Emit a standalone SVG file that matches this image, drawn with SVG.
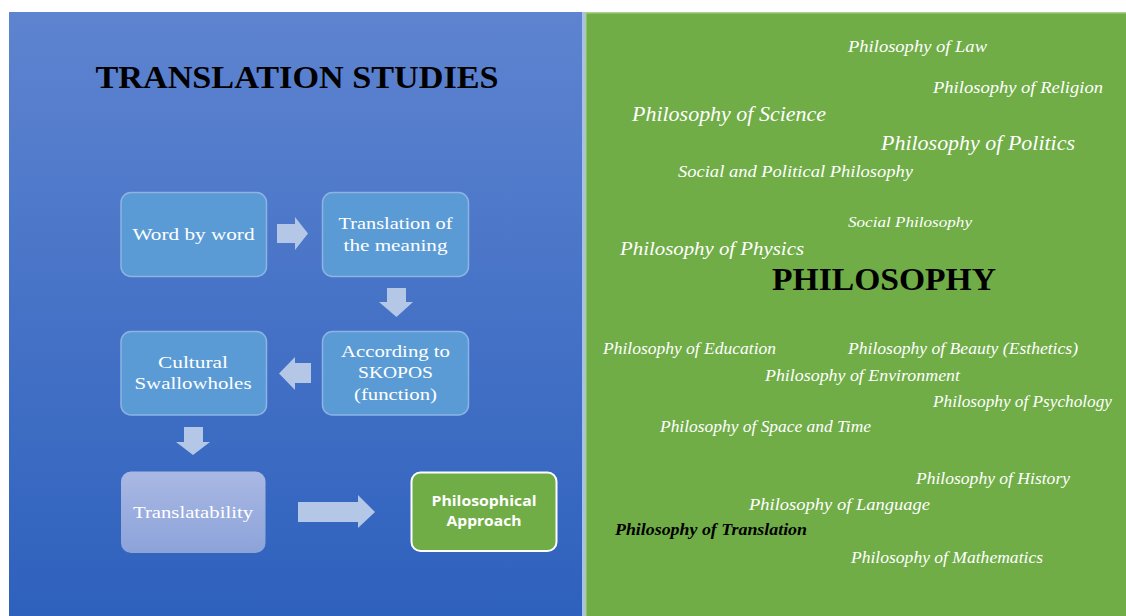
<svg xmlns="http://www.w3.org/2000/svg" width="1126" height="616" viewBox="0 0 1126 616">
<defs>
<linearGradient id="bg" x1="0" y1="0" x2="0" y2="1">
<stop offset="0" stop-color="#5E84D0"/>
<stop offset="1" stop-color="#2E61BD"/>
</linearGradient>
<linearGradient id="tr" x1="0" y1="0" x2="0" y2="1">
<stop offset="0" stop-color="#AAB8E3"/>
<stop offset="1" stop-color="#8CA3DA"/>
</linearGradient>
<style>
.box{fill:#5B9BD5;stroke:#8DB3E4;stroke-width:1.5}
.bt{font-family:"Liberation Serif","Times New Roman",serif;font-size:17px;fill:#FFFFFF;text-anchor:middle}
.arr{fill:#B4C7E7}
.ph{font-family:"Liberation Serif","Times New Roman",serif;font-style:italic;fill:#FFFFFF}
</style>
</defs>
<rect width="1126" height="616" fill="#FFFFFF"/>
<rect x="9" y="12" width="573" height="604" fill="url(#bg)"/>
<rect x="582" y="12" width="3" height="604" fill="#A9C1EA"/>
<rect x="585" y="12" width="541" height="604" fill="#70AD47"/>
<rect x="585" y="12" width="541" height="1.5" fill="#A9D18E"/>
<rect x="585" y="12" width="1.5" height="604" fill="#A9D18E"/>

<text x="297" y="88" font-family="Liberation Serif,'Times New Roman',serif" font-weight="bold" font-size="32" fill="#000000" text-anchor="middle" textLength="403" lengthAdjust="spacingAndGlyphs">TRANSLATION STUDIES</text>

<g id="connectors">
<polygon class="arr" points="277,224 295,224 295,217 308,233.5 295,250 295,243 277,243"/>
<polygon class="arr" points="387,288 406,288 406,302 413,302 396.5,317 379,302 387,302"/>
<polygon class="arr" points="311,363 295,363 295,357 279,373.5 295,390 295,383 311,383"/>
<polygon class="arr" points="184,427 203,427 203,442 210,442 193,455 176,442 184,442"/>
<polygon class="arr" points="298,502 358,502 358,495 375,512 358,528 358,522 298,522"/>
</g>

<g id="word-by-word">
<rect class="box" x="121" y="192.5" width="145.5" height="84" rx="10"/>
<text class="bt" x="193.5" y="240" textLength="122" lengthAdjust="spacingAndGlyphs">Word by word</text>
</g>
<g id="translation-meaning">
<rect class="box" x="322.5" y="192.5" width="146" height="84" rx="10"/>
<text class="bt" x="395.5" y="229" textLength="114" lengthAdjust="spacingAndGlyphs">Translation of</text>
<text class="bt" x="395.5" y="251" textLength="104" lengthAdjust="spacingAndGlyphs">the meaning</text>
</g>
<g id="skopos">
<rect class="box" x="322.5" y="331.5" width="146" height="83.5" rx="10"/>
<text class="bt" x="395.5" y="357" textLength="109" lengthAdjust="spacingAndGlyphs">According to</text>
<text class="bt" x="395.5" y="378" textLength="75" lengthAdjust="spacingAndGlyphs">SKOPOS</text>
<text class="bt" x="395.5" y="400" textLength="83" lengthAdjust="spacingAndGlyphs">(function)</text>
</g>
<g id="cultural">
<rect class="box" x="121" y="331.5" width="145.5" height="83.5" rx="10"/>
<text class="bt" x="193" y="368" textLength="70" lengthAdjust="spacingAndGlyphs">Cultural</text>
<text class="bt" x="193" y="389" textLength="117" lengthAdjust="spacingAndGlyphs">Swallowholes</text>
</g>
<g id="translatability">
<rect x="121" y="471.5" width="144.5" height="81.5" rx="10" fill="url(#tr)"/>
<text class="bt" x="193" y="518" textLength="120" lengthAdjust="spacingAndGlyphs">Translatability</text>
</g>
<g id="philosophical-approach">
<rect x="411.5" y="472.5" width="145" height="78.5" rx="9" fill="#70AD47" stroke="#FFFFFF" stroke-width="2"/>
<text x="484" y="506" font-family="'Open Sans','Liberation Sans',sans-serif" font-weight="bold" font-size="14" fill="#FFFFFF" text-anchor="middle" textLength="105" lengthAdjust="spacingAndGlyphs">Philosophical</text>
<text x="484" y="526" font-family="'Open Sans','Liberation Sans',sans-serif" font-weight="bold" font-size="14" fill="#FFFFFF" text-anchor="middle" textLength="75" lengthAdjust="spacingAndGlyphs">Approach</text>
</g>

<g id="philosophy-cloud">
<text class="ph" x="848" y="52" font-size="16" textLength="139" lengthAdjust="spacingAndGlyphs">Philosophy of Law</text>
<text class="ph" x="933" y="93" font-size="16" textLength="170" lengthAdjust="spacingAndGlyphs">Philosophy of Religion</text>
<text class="ph" x="632" y="121" font-size="20" textLength="194" lengthAdjust="spacingAndGlyphs">Philosophy of Science</text>
<text class="ph" x="881" y="150" font-size="21" textLength="194" lengthAdjust="spacingAndGlyphs">Philosophy of Politics</text>
<text class="ph" x="678" y="177" font-size="16" textLength="235" lengthAdjust="spacingAndGlyphs">Social and Political Philosophy</text>
<text class="ph" x="848" y="227" font-size="15" textLength="124" lengthAdjust="spacingAndGlyphs">Social Philosophy</text>
<text class="ph" x="620" y="255" font-size="19" textLength="184" lengthAdjust="spacingAndGlyphs">Philosophy of Physics</text>
<text x="772" y="290" font-family="Liberation Serif,'Times New Roman',serif" font-weight="bold" font-size="31" fill="#000000" textLength="224" lengthAdjust="spacingAndGlyphs">PHILOSOPHY</text>
<text class="ph" x="603" y="354" font-size="16" textLength="173" lengthAdjust="spacingAndGlyphs">Philosophy of Education</text>
<text class="ph" x="848" y="354" font-size="16" textLength="230" lengthAdjust="spacingAndGlyphs">Philosophy of Beauty (Esthetics)</text>
<text class="ph" x="765" y="381" font-size="16" textLength="195" lengthAdjust="spacingAndGlyphs">Philosophy of Environment</text>
<text class="ph" x="933" y="407" font-size="16" textLength="179" lengthAdjust="spacingAndGlyphs">Philosophy of Psychology</text>
<text class="ph" x="660" y="432" font-size="16" textLength="211" lengthAdjust="spacingAndGlyphs">Philosophy of Space and Time</text>
<text class="ph" x="916" y="484" font-size="16" textLength="154" lengthAdjust="spacingAndGlyphs">Philosophy of History</text>
<text class="ph" x="749" y="510" font-size="17" textLength="181" lengthAdjust="spacingAndGlyphs">Philosophy of Language</text>
<text class="ph" x="615" y="535" font-size="16" font-weight="bold" fill="#000000" style="fill:#000000" textLength="192" lengthAdjust="spacingAndGlyphs">Philosophy of Translation</text>
<text class="ph" x="851" y="563" font-size="16" textLength="192" lengthAdjust="spacingAndGlyphs">Philosophy of Mathematics</text>
</g>
</svg>
